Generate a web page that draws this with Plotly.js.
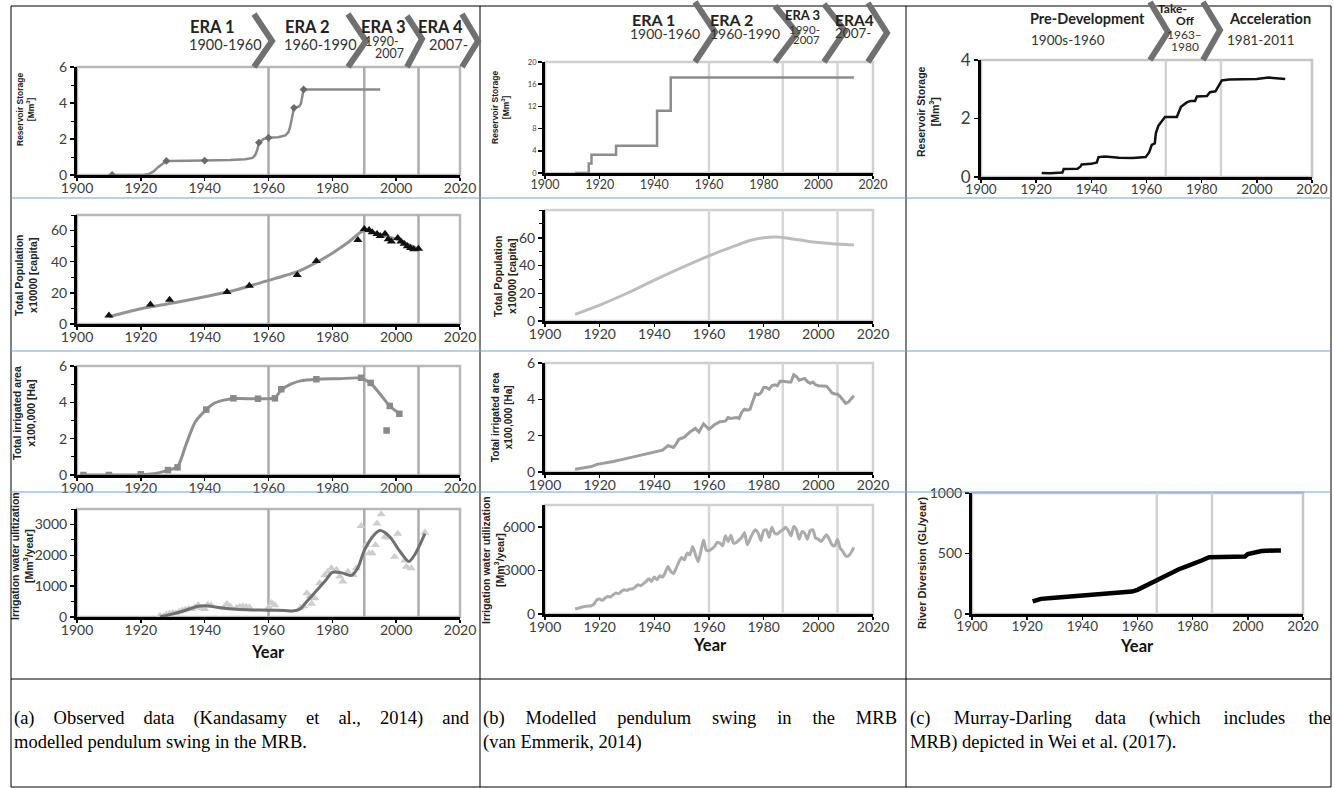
<!DOCTYPE html>
<html><head><meta charset="utf-8">
<script src="https://cdn.plot.ly/plotly-3.0.1.min.js"></script>
<style>html,body{margin:0;padding:0;background:#fff;}#chart{width:1334px;height:788px;}</style>
</head><body><div id="chart"></div>
<script>
// ---------------- DATA ----------------
const yearTicks = [1900,1920,1940,1960,1980,2000,2020];
const eraYearsA = [1960,1990,2007];
const eraYearsB = [1960,1987,2007];
const eraYearsC = [1967,1987];

// (a) observed + modelled (Kandasamy et al., 2014)
const aStorageObsYear = [1911,1928,1940,1957,1960,1968,1971];
const aStorageObsVal  = [0,0.78,0.8,1.8,2.07,3.73,4.75];
const aStorageFitYear = [1911,1918,1921,1922.5,1924,1925.5,1926.8,1927.5,1928,1935,1940,1948,1952.7,1955,1955.8,1956.5,1957,1958.5,1960,1963,1965.3,1966.3,1966.8,1967.6,1968,1969,1969.7,1970.2,1970.6,1971,1995];
const aStorageFitVal  = [0,0,0.01,0.05,0.2,0.45,0.65,0.75,0.78,0.79,0.8,0.83,0.87,0.95,1.1,1.4,1.8,2.0,2.07,2.1,2.2,2.4,2.7,3.4,3.73,3.78,3.82,4.0,4.4,4.75,4.75];

const aPopObsYear = [1910,1923,1929,1947,1954,1969,1975,1988,1990,1991.5,1992.5,1994,1995,1996.5,1997.5,1998.5,2000.5,2001.5,2002.5,2003.5,2004.5,2005.5,2007];
const aPopObsVal  = [5.5,12.5,15.5,20.5,24.5,31.5,40.5,54,61,60.3,59,57.8,56.5,58,54.4,53,55.3,53,51.5,50,48.8,48,48.4];
const aPopFitYear = [1910,1920,1930,1940,1950,1960,1965,1970,1975,1980,1985,1990,1995,2000,2005,2007];
const aPopFitVal  = [4.6,9.8,13.5,17.5,22,28,31,34.5,39.5,45.5,52.5,60,57.5,54.5,50,48];

const aAreaObsYear = [1902,1910,1920,1928.5,1931.5,1940.5,1949,1956.7,1962,1964,1975,1989,1992,1998,2001,1997];
const aAreaObsVal  = [0,0,0.04,0.27,0.42,3.6,4.22,4.2,4.22,4.72,5.27,5.35,5.07,3.8,3.37,2.45];
const aAreaFitYear = [1902,1910,1920,1925,1928.5,1931.5,1934,1937,1940.5,1943,1946,1949,1956.7,1962,1964,1967,1970,1975,1982,1989,1992,1995,1998,2001];
const aAreaFitVal  = [0,0,0.02,0.1,0.27,0.45,1.6,2.9,3.6,3.95,4.12,4.2,4.2,4.25,4.68,5.0,5.18,5.27,5.3,5.33,5.05,4.45,3.8,3.38];

const aIrrObsYear = [1926,1927,1928,1929,1930,1931,1932,1933,1934,1935,1936,1937,1938,1939,1940,1941,1942,1946,1947,1948,1950,1951,1952,1953,1954,1960,1961,1962,1970,1971,1972,1973,1973.5,1974.5,1976,1977.6,1978.6,1979.7,1981.3,1982.3,1983.3,1984.9,1986.5,1987.5,1989,1990.5,1991.5,1992.5,1993.5,1994,1995.3,1996.5,1997.5,1999.5,2000.5,2002.7,2003.2,2004.7,2009];
const aIrrObsVal  = [40,20,80,110,140,120,170,210,240,270,260,320,390,300,260,400,380,300,420,350,300,330,350,330,320,310,450,380,300,350,770,670,430,610,1100,1350,1470,1580,1530,1310,1150,1470,1360,1580,2950,2330,2070,2070,2330,3030,3330,2600,2580,1950,2700,1830,1630,1580,2740];
const aIrrFitYear = [1926,1930,1934,1938,1941,1945,1950,1955,1960,1965,1968,1970,1972,1975,1978,1980,1983,1986,1988,1990,1993,1995,1998,2001,2004,2006,2009];
const aIrrFitVal  = [0,100,220,350,360,300,250,230,220,210,200,270,500,850,1200,1450,1430,1350,1600,2150,2650,2800,2600,2150,1800,2050,2700];

// (b) modelled (van Emmerik, 2014)
const bStorYear = [1911,1916,1917,1926,1941,1946,2013];
const bStorVal  = [0,1.7,3.3,4.9,11.2,17.2,17.2];
const bPopYear = [1911,1920,1930,1940,1950,1960,1970,1975,1980,1985,1990,1995,2000,2005,2013];
const bPopVal  = [4.8,11.5,20,29.5,38.5,47,54.5,58,60,60.5,59.3,57.8,56.5,55.7,54.8];
const bAreaYear = [1911,1914,1917,1919,1922,1925,1928,1931,1933,1935,1937,1939,1941,1943,1945,1947,1948,1949,1951,1953,1955,1956.3,1958,1960,1962,1964,1966,1967,1968,1970,1971,1972,1973,1974,1975,1976,1977,1978,1979,1980,1981,1982,1983,1984,1985,1986,1987,1989,1990,1991,1992,1993,1994,1995,1996,1997,1998,1999,2000,2002,2003,2004,2005,2006,2007,2008,2009,2010,2011,2012,2013];
const bAreaVal  = [0.15,0.22,0.3,0.42,0.48,0.58,0.68,0.78,0.85,0.93,1.02,1.07,1.12,1.2,1.45,1.35,1.55,1.8,1.92,2.2,2.4,2.2,2.65,2.35,2.6,2.77,2.8,3.0,2.95,3.0,2.95,3.3,3.45,3.4,3.45,3.9,4.3,4.25,4.35,4.65,4.65,4.55,4.75,4.8,4.75,5.0,5.0,4.95,4.95,5.35,5.25,5.05,5.1,5.15,4.98,4.88,4.95,4.8,4.75,4.75,4.72,4.55,4.35,4.3,4.3,4.15,3.95,3.78,3.85,4.05,4.2];
const bIrrYear = [1911,1915,1917,1918,1919,1920,1921,1922,1923,1924,1925,1926,1927,1928,1929,1930,1931,1932,1933,1934,1935,1936,1937,1938,1939,1940,1941,1942,1943,1944,1945,1946,1947,1948,1949,1950,1951,1952,1953,1954,1955,1956,1957,1958,1959,1960,1962,1963,1964,1965,1966,1967,1968,1969,1970,1971,1972,1973,1974,1975,1976,1977,1978,1979,1980,1981,1982,1983,1984,1985,1986,1987,1988,1989,1990,1991,1992,1993,1994,1995,1996,1997,1998,1999,2000,2001,2002,2003,2004,2005,2006,2007,2008,2009,2010,2011,2012,2013];
const bIrrVal  = [340,530,570,700,980,1030,940,1100,1210,1170,1330,1440,1400,1560,1670,1620,1720,1720,1850,2010,1950,2080,2240,2430,2240,2540,2360,2630,2540,2860,3270,2930,2770,3160,3600,3890,3730,4190,4070,4650,4120,3600,4300,5100,4400,4370,4650,4920,4880,4690,5380,4990,5420,4880,4920,5100,5280,5600,4760,5150,5560,5790,5560,5060,5740,5790,5280,5970,5560,5510,5670,5790,5970,5740,5380,6020,5790,5150,5670,5560,5150,5740,5790,5220,5150,4990,5220,5450,5150,4760,4690,5150,4530,4300,4000,4000,4230,4580];

// (c) Murray-Darling data (Wei et al., 2017)
const cStorYear = [1922,1925,1929.5,1930,1935,1936,1936.5,1940,1942,1942.6,1945,1950,1955,1959.7,1961,1961.9,1963,1963.4,1964.3,1965.5,1966.7,1971,1971.6,1972.5,1974.6,1976,1977.6,1978.3,1981.9,1983,1985,1986,1987.3,1990,2000,2004.2,2010.3];
const cStorVal  = [0.14,0.13,0.15,0.27,0.28,0.35,0.43,0.45,0.5,0.68,0.7,0.66,0.65,0.68,0.85,1.1,1.15,1.5,1.75,1.9,2.05,2.05,2.2,2.4,2.55,2.6,2.6,2.75,2.77,2.9,2.93,3.1,3.3,3.33,3.35,3.4,3.35];
const cDivYear = [1922,1925,1930,1935,1940,1945,1950,1955,1958,1960,1963,1965,1967,1970,1973,1975,1978,1980,1983,1986,1990,1995,1999,2000,2002,2003,2005,2010,2012];
const cDivVal  = [104,125,135,145,150,163,172,180,185,200,235,260,285,320,350,370,395,410,440,470,470,470,475,495,505,515,520,525,525];

// ---------------- LAYOUT HELPERS ----------------
const W = 1334, H = 788;
const fx = p => p / W, fy = p => 1 - p / H;
const NUM = 'Lato, "Open Sans", sans-serif';
const LBL = '"Liberation Sans", Arial, sans-serif';

const panels = [
  {x:[77,460], y:[67,175], range:[0,6], tv:[0,2,4,6], minor:1, eras:eraYearsA, ec:'#ababab', fc:'#b8b8b8', ytf:14, xtf:14},
  {x:[77,460], y:[215,324], range:[0,70], tv:[0,20,40,60], minor:10, eras:eraYearsA, ec:'#ababab', fc:'#b8b8b8', ytf:14, xtf:14},
  {x:[77,460], y:[366,475], range:[0,6], tv:[0,2,4,6], minor:1, eras:eraYearsA, ec:'#ababab', fc:'#b8b8b8', ytf:14, xtf:14},
  {x:[77,460], y:[509,617], range:[0,3500], tv:[0,1000,2000,3000], minor:500, eras:eraYearsA, ec:'#ababab', fc:'#b8b8b8', ytf:14, xtf:14},
  {x:[545,873], y:[62,173], range:[0,20], tv:[0,4,8,12,16,20], minor:null, eras:eraYearsB, ec:'#d6d6d6', fc:'#cfcfcf', ytf:7.5, xtf:12.5},
  {x:[545,873], y:[210,321], range:[0,80], tv:[0,20,40,60], minor:10, eras:eraYearsB, ec:'#d6d6d6', fc:'#cfcfcf', ytf:14, xtf:14},
  {x:[545,873], y:[363,472], range:[0,6], tv:[0,2,4,6], minor:null, eras:eraYearsB, ec:'#d6d6d6', fc:'#cfcfcf', ytf:14, xtf:14},
  {x:[545,873], y:[505,614], range:[0,7500], tv:[0,3000,6000], minor:null, eras:eraYearsB, ec:'#d6d6d6', fc:'#cfcfcf', ytf:14, xtf:14},
  {x:[981,1312], y:[60,177], range:[0,4], tv:[0,2,4], minor:null, eras:eraYearsC, ec:'#d2d2d2', fc:'#c6c6c6', ytf:17, xtf:13.5},
  {x:[972,1303], y:[493,614], range:[0,1000], tv:[0,500,1000], minor:null, eras:eraYearsC, ec:'#d2d2d2', fc:'#c6c6c6', ytf:14, xtf:13.5}
];

const layout = {
  width: W, height: H, margin:{l:0,r:0,t:0,b:0},
  paper_bgcolor:'#fff', plot_bgcolor:'rgba(0,0,0,0)', showlegend:false,
  shapes:[], annotations:[]
};

panels.forEach((p, i) => {
  const s = i === 0 ? '' : String(i + 1);
  layout['xaxis' + s] = {
    domain:[fx(p.x[0]), fx(p.x[1])], anchor:'y' + s, range:[1900,2020], tickvals:yearTicks,
    showline:true, linecolor:'#000', linewidth:3, ticks:'outside', ticklen:3, tickwidth:1.5, tickcolor:'#000',
    ticklabelstandoff:-5,
    showgrid:false, zeroline:false, automargin:false,
    tickfont:{family:NUM, size:p.xtf, color:'#3c3c3c'}
  };
  const ya = {
    domain:[fy(p.y[1]), fy(p.y[0])], anchor:'x' + s, range:p.range, tickvals:p.tv,
    showline:true, linecolor:'#000', linewidth:3, ticks:'outside', ticklen:4, tickwidth:1.5, tickcolor:'#000',
    showgrid:false, zeroline:false, automargin:false,
    tickfont:{family:NUM, size:p.ytf, color:'#3c3c3c'}
  };
  if (p.minor) ya.minor = {ticks:'outside', ticklen:3, tickwidth:1, tickcolor:'#000', dtick:p.minor};
  layout['yaxis' + s] = ya;
  // frame (grey top/right border)
  layout.shapes.push({type:'rect', layer:'below', xref:'x' + s + ' domain', yref:'y' + s + ' domain',
    x0:0, x1:1, y0:0, y1:1, line:{color:p.fc, width:2.5}});
  // era boundary lines
  p.eras.forEach(e => layout.shapes.push({type:'line', layer:'below', xref:'x' + s, yref:'y' + s + ' domain',
    x0:e, x1:e, y0:0, y1:1, line:{color:p.ec, width:2.5}}));
});

// table borders
const blk = {color:'#000', width:1};
[[11,6,1331,6],[11,787,1331,787],[11,6,11,787],[1331,6,1331,787],[480,6,480,787],[906,6,906,787],[11,679,1331,679]]
  .forEach(l => layout.shapes.push({type:'line', xref:'paper', yref:'paper', x0:fx(l[0]), y0:fy(l[1]), x1:fx(l[2]), y1:fy(l[3]), line:blk}));
// blue separators
[198,351,492].forEach(y => layout.shapes.push({type:'line', xref:'paper', yref:'paper', x0:fx(11), x1:fx(1331), y0:fy(y), y1:fy(y), line:{color:'#6fa3d8', width:1.2}}));

// chevrons [left, right, top, bottom, pointY]
const chevrons = [
  [254,272,14,67,41],[348,366,14,67,41],[407,422,16,67,39],[462,478,14,67,41],
  [695,715,2,62,32],[775,797,6,62,33],[824,845,4,62,31],[868,887,3,62,33],
  [1150,1168,2,60,32],[1203,1220,2,60,30]
];
chevrons.forEach(c => layout.shapes.push({type:'path', xref:'paper', yref:'paper',
  path:`M ${fx(c[0])},${fy(c[2])} L ${fx(c[1])},${fy(c[4])} L ${fx(c[0])},${fy(c[3])}`,
  line:{color:'#707070', width:6}}));

function ann(text, x, y, size, opts) {
  layout.annotations.push(Object.assign({text, xref:'paper', yref:'paper', x:fx(x), y:fy(y),
    xanchor:'center', yanchor:'middle', showarrow:false, borderpad:0,
    font:{family:NUM, size, color:'#222'}}, opts || {}));
}
const B = t => '<b>' + t + '</b>';
const yr = (t, x, y, size) => ann(t, x, y, size, {font:{family:NUM, size, color:'#333'}});
// era headers column a
ann(B('ERA 1'), 212, 27, 16.5); yr('1900-1960', 226, 44, 14.5);
ann(B('ERA 2'), 307, 27, 16.5); yr('1960-1990', 320, 44, 14.5);
ann(B('ERA 3'), 383, 27, 16.5); yr('1990-', 382, 42, 12.5); yr('2007', 389, 53.5, 12.5);
ann(B('ERA 4'), 440, 27, 16.5); yr('2007-', 448, 44, 14.5);
// column b
ann(B('ERA 1'), 653, 20, 16); yr('1900-1960', 665, 33, 14);
ann(B('ERA 2'), 731, 20, 16); yr('1960-1990', 745, 33, 14);
ann(B('ERA 3'), 802, 15, 13); yr('1990-', 804, 29, 11.5); yr('2007', 806, 39, 11.5);
ann(B('ERA4'), 854, 20, 15.5); yr('2007-', 853, 33, 13.5);
// column c
ann(B('Pre-Development'), 1087, 18, 14.5); yr('1900s-1960', 1068, 40, 13.5);
ann(B('Take-'), 1172, 9, 12); ann(B('Off'), 1185, 20.5, 12);
yr('1963–', 1184, 35, 12); yr('1980', 1185, 46, 12);
ann(B('Acceleration'), 1270, 18, 14.5); yr('1981-2011', 1261, 40, 13.5);

// y-axis titles (rotated)
function ytitle(text, x, y, size) {
  ann(B(text), x, y, size, {textangle:-90, font:{family:LBL, size, color:'#222'}});
}
ytitle('Reservoir Storage<br>[Mm<sup>3</sup>]', 25, 110, 8.5);
ytitle('Total Population<br>x10000 [capita]', 26, 276, 10.5);
ytitle('Total irrigated area<br>x100,000 [Ha]', 24, 413, 10.5);
ytitle('Irrigation water ulitization<br>[Mm<sup>3</sup>/year]', 22, 556, 10.5);
ytitle('Reservoir Storage<br>[Mm<sup>3</sup>]', 501, 108, 8.5);
ytitle('Total Population<br>x10000 [capita]', 505, 277, 10.5);
ytitle('Total irrigated area<br>x100,000 [Ha]', 502, 417, 10);
ytitle('Irrigation water utilization<br>[Mm<sup>3</sup>/year]', 493, 560, 10.5);
ytitle('Reservoir Storage<br>[Mm<sup>3</sup>]', 928, 112, 10.5);
ytitle('River Diversion (GL/year)', 922, 563, 11);
// x-axis titles
ann(B('Year'), 268, 652, 16.5, {font:{family:NUM,size:16.5,color:'#111'}});
ann(B('Year'), 710, 645, 16.5, {font:{family:NUM,size:16.5,color:'#111'}});
ann(B('Year'), 1137, 646, 16.5, {font:{family:NUM,size:16.5,color:'#111'}});

// captions
const CAP = '"Liberation Serif", "Times New Roman", serif';
const justify = [];
function cap(text, x, y, width) {
  ann(text, x, y, 18.5, {xanchor:'left', align:'left', font:{family:CAP, size:18.5, color:'#000'}});
  if (width) justify.push({text, width});
}
cap('(a) Observed data (Kandasamy et al., 2014) and', 13, 718, 455);
cap('modelled pendulum swing in the MRB.', 13, 742);
cap('(b) Modelled pendulum swing in the MRB', 482, 718, 414);
cap('(van Emmerik, 2014)', 482, 742);
cap('(c) Murray-Darling data (which includes the', 909, 718, 421);
cap('MRB) depicted in Wei et al. (2017).', 909, 742);

// ---------------- TRACES ----------------
const tr = (i, x, y, o) => Object.assign({x, y, xaxis:'x' + (i ? i + 1 : ''), yaxis:'y' + (i ? i + 1 : ''), hoverinfo:'skip'}, o);
const data = [
  tr(0, aStorageFitYear, aStorageFitVal, {mode:'lines', line:{color:'#8a8a8a', width:2.5}}),
  tr(0, aStorageObsYear, aStorageObsVal, {mode:'markers', marker:{symbol:'diamond', size:6, color:'#6a6a6a'}}),
  tr(1, aPopFitYear, aPopFitVal, {mode:'lines', line:{color:'#939393', width:3, shape:'spline', smoothing:0.8}}),
  tr(1, aPopObsYear, aPopObsVal, {mode:'markers', marker:{symbol:'triangle-up', size:8, color:'#111'}}),
  tr(2, aAreaFitYear, aAreaFitVal, {mode:'lines', line:{color:'#8f8f8f', width:3, shape:'spline', smoothing:0.7}}),
  tr(2, aAreaObsYear, aAreaObsVal, {mode:'markers', marker:{symbol:'square', size:6.5, color:'#8a8a8a'}}),
  tr(3, aIrrObsYear, aIrrObsVal, {mode:'markers', marker:{symbol:'triangle-up', size:8, color:'#cecece'}}),
  tr(3, aIrrFitYear, aIrrFitVal, {mode:'lines', line:{color:'#6f6f6f', width:3, shape:'spline', smoothing:0.8}}),
  tr(4, bStorYear, bStorVal, {mode:'lines', line:{color:'#8c8c8c', width:2.5, shape:'hv'}}),
  tr(5, bPopYear, bPopVal, {mode:'lines', line:{color:'#bdbdbd', width:3, shape:'spline', smoothing:0.8}}),
  tr(6, bAreaYear, bAreaVal, {mode:'lines', line:{color:'#9d9d9d', width:3}}),
  tr(7, bIrrYear, bIrrVal, {mode:'lines', line:{color:'#acacac', width:3, shape:'spline', smoothing:0.6}}),
  tr(8, cStorYear, cStorVal, {mode:'lines', line:{color:'#111', width:2.5}}),
  tr(9, cDivYear, cDivVal, {mode:'lines', line:{color:'#000', width:4.5}})
];

Plotly.newPlot('chart', data, layout, {staticPlot:true, displayModeBar:false}).then(gd => {
  const nodes = gd.querySelectorAll('text.annotation-text');
  justify.forEach(j => {
    nodes.forEach(n => {
      if (n.textContent === j.text) {
        const len = n.getComputedTextLength();
        const spaces = (j.text.match(/ /g) || []).length;
        if (spaces > 0 && j.width > len) n.style.wordSpacing = ((j.width - len) / spaces) + 'px';
      }
    });
  });
});
</script></body></html>
